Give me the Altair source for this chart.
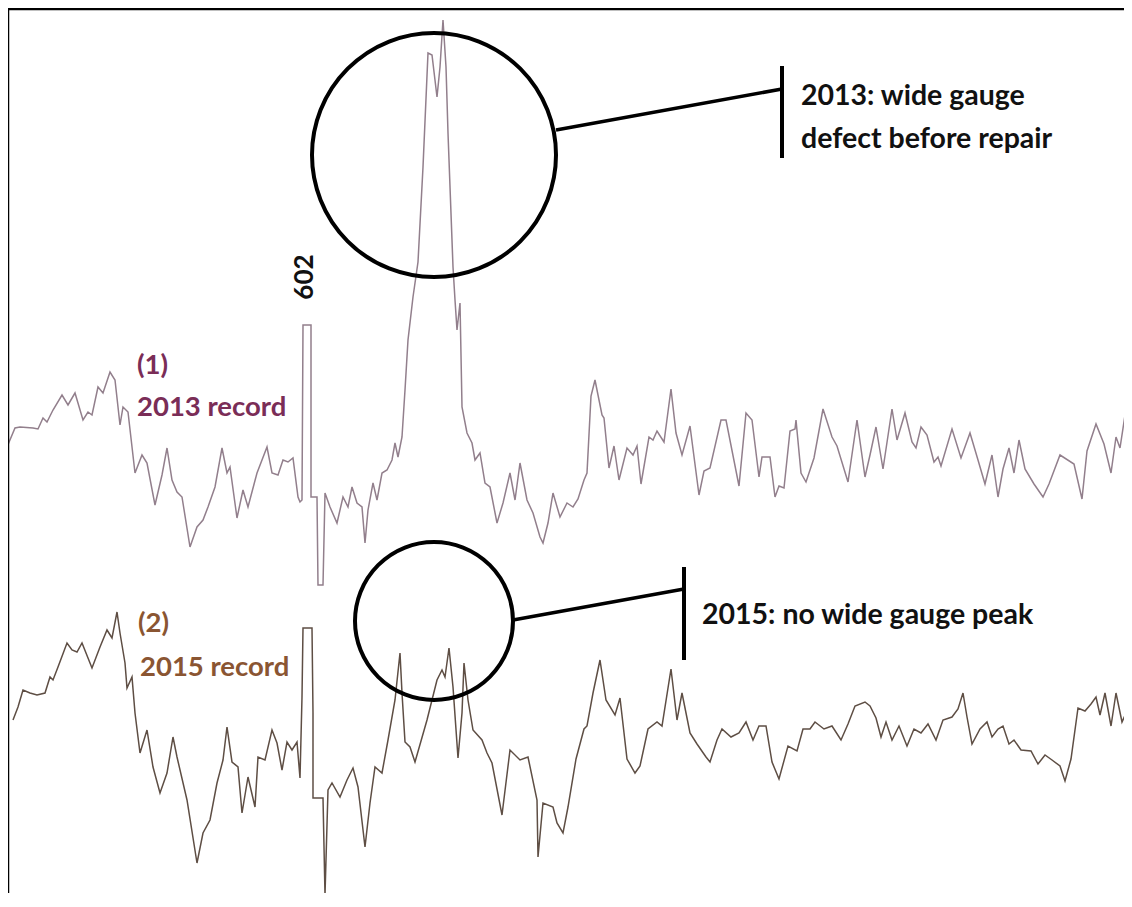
import altair as alt
import pandas as pd

t1_x = [7,15,20,33,38,43,47,53,62,68,75,83,88,92,98,103,110,115,120,123,128,135,142,147,155,162,167,172,177,182,190,197,203,208,215,222,227,230,237,243,248,257,267,272,278,283,288,293,298,300,302,303,311,311,317,318,323,325,330,337,343,348,352,357,362,365,368,373,377,382,387,392,395,398,402,405,408,413,418,423,428,432,437,440,443,446,448,453,455,457,460,462,467,472,475,480,485,490,497,503,510,515,520,527,533,540,543,548,553,560,567,573,578,584,587,591,595,598,602,604,609,614,619,627,633,637,641,649,653,657,664,671,676,682,690,699,704,710,721,726,739,746,752,759,762,770,775,779,784,790,795,796,801,806,814,823,832,837,848,857,865,870,876,883,892,897,905,912,916,921,927,934,938,941,952,961,970,978,985,992,998,1003,1009,1014,1019,1025,1034,1043,1049,1060,1074,1082,1087,1096,1104,1111,1116,1120,1127,1132]
t1_y = [447,428,427,428,429,418,422,410,395,405,393,420,412,415,387,393,372,380,425,407,412,473,455,463,505,475,448,480,492,497,547,527,520,507,487,448,473,467,518,490,507,473,447,473,475,460,462,458,497,502,500,325,325,497,497,585,585,493,507,523,497,507,487,503,507,543,510,483,500,473,470,460,443,457,437,390,340,297,262,167,53,55,97,67,20,67,133,267,300,330,303,407,433,443,460,453,483,487,523,503,473,500,463,500,513,537,543,523,493,517,503,507,499,480,473,396,380,395,415,418,468,446,480,448,455,446,484,437,440,431,442,389,433,455,426,495,471,468,420,420,486,413,420,477,457,457,497,486,488,431,429,420,473,482,458,409,437,446,482,420,477,455,427,469,409,440,413,442,448,427,435,462,457,466,429,458,433,460,484,455,497,469,448,473,440,469,484,497,484,455,464,499,451,424,444,473,437,448,402,415]

t2_x = [13,18,23,30,37,45,50,53,58,67,72,77,82,92,100,107,112,117,120,125,127,132,135,140,147,153,160,167,173,177,187,197,203,210,217,223,227,232,238,242,248,255,258,265,272,277,282,287,292,297,300,302,303,312,313,313,323,325,328,332,340,347,353,358,365,370,375,382,388,395,400,402,405,410,415,427,437,442,445,449,453,458,462,464,468,473,482,487,492,502,510,520,528,537,538,543,553,557,563,568,576,584,587,593,600,606,615,620,627,635,640,648,657,662,671,677,682,690,697,706,710,717,722,731,739,746,753,759,766,772,779,788,797,803,810,815,824,832,841,848,855,865,870,876,881,886,892,899,907,914,921,928,936,943,952,958,963,967,972,980,987,992,998,1003,1009,1014,1021,1031,1038,1045,1052,1060,1065,1071,1078,1085,1091,1096,1100,1105,1111,1116,1122,1127,1132]
t2_y = [720,707,690,693,695,693,677,680,667,643,650,652,643,668,647,630,638,612,633,663,688,677,713,753,730,767,793,773,737,757,800,863,833,820,783,760,727,762,767,813,777,807,757,760,730,743,770,742,750,742,778,697,628,628,713,798,798,895,790,783,797,780,768,787,847,803,767,773,740,700,653,693,742,747,762,720,680,670,677,648,687,758,713,663,700,730,740,753,763,815,750,760,757,800,857,803,807,823,833,807,759,729,726,693,660,700,715,698,759,773,766,729,722,726,669,720,693,733,744,757,762,740,729,737,733,722,740,726,726,762,779,746,751,729,729,722,729,726,740,724,706,702,706,718,737,722,740,726,746,729,733,724,740,720,717,709,693,717,744,729,722,737,729,726,744,740,750,751,764,755,760,766,781,759,708,711,704,697,715,693,726,693,722,711,708]

# ---- annotation content ----
circle_cx = [434, 434]
circle_cy = [155, 621]
circle_d = [244, 158]

conn_x = [556, 513]
conn_y = [130, 620]
conn_x2 = [782, 684]
conn_y2 = [89, 589]

bar_x = [782, 684]
bar_y = [66, 567]
bar_y2 = [158, 660]

note_text = ["2013: wide gauge", "defect before repair", "2015: no wide gauge peak"]
note_x = [801, 801, 702]
note_y = [96, 139, 615]

label_text = ["(1)", "2013 record", "(2)", "2015 record"]
label_x = [137, 137, 138, 140]
label_y = [366, 408, 624, 668]
label_col = ["#7a2d57", "#7a2d57", "#8a5532", "#8a5532"]

W, H = 1116, 885
XS = alt.Scale(domain=[8, 8 + W], nice=False, zero=False)
YS = alt.Scale(domain=[8, 8 + H], nice=False, zero=False, reverse=True)

rows = []
for i, (x, y) in enumerate(zip(t1_x, t1_y)):
    rows.append({"series": "2013", "i": i, "x": x, "y": y})
for i, (x, y) in enumerate(zip(t2_x, t2_y)):
    rows.append({"series": "2015", "i": i, "x": x, "y": y})
traces = pd.DataFrame(rows)

lines = alt.Chart(traces).mark_line(strokeWidth=1.5, clip=True).encode(
    x=alt.X("x:Q", scale=XS, axis=None),
    y=alt.Y("y:Q", scale=YS, axis=None),
    color=alt.Color("series:N", scale=alt.Scale(domain=["2013", "2015"], range=["#927f8c", "#5e4e44"]), legend=None),
    order=alt.Order("i:Q"),
)

circles_df = pd.DataFrame({"x": circle_cx, "y": circle_cy, "d": [v * v for v in circle_d]})
circles = alt.Chart(circles_df).mark_point(shape="circle", filled=False, color="black", strokeWidth=4, opacity=1).encode(
    x=alt.X("x:Q", scale=XS, axis=None),
    y=alt.Y("y:Q", scale=YS, axis=None),
    size=alt.Size("d:Q", scale=None, legend=None),
)

conn_df = pd.DataFrame({"x": conn_x, "y": conn_y, "x2": conn_x2, "y2": conn_y2})
conns = alt.Chart(conn_df).mark_rule(color="black", strokeWidth=3.5).encode(
    x=alt.X("x:Q", scale=XS, axis=None), y=alt.Y("y:Q", scale=YS, axis=None), x2="x2:Q", y2="y2:Q"
)

bar_df = pd.DataFrame({"x": bar_x, "y": bar_y, "y2": bar_y2})
bars = alt.Chart(bar_df).mark_rule(color="black", strokeWidth=4).encode(
    x=alt.X("x:Q", scale=XS, axis=None), y=alt.Y("y:Q", scale=YS, axis=None), y2="y2:Q"
)

notes_df = pd.DataFrame({"t": note_text, "x": note_x, "y": note_y})
notes = alt.Chart(notes_df).mark_text(align="left", baseline="middle", font="Lato", fontWeight="bold", fontSize=28.5, color="#111111").encode(
    x=alt.X("x:Q", scale=XS, axis=None), y=alt.Y("y:Q", scale=YS, axis=None), text="t:N"
)

labels_df = pd.DataFrame({"t": label_text, "x": label_x, "y": label_y, "c": label_col})
labels = alt.Chart(labels_df).mark_text(align="left", baseline="middle", font="Lato", fontWeight="bold", fontSize=27.5).encode(
    x=alt.X("x:Q", scale=XS, axis=None), y=alt.Y("y:Q", scale=YS, axis=None), text="t:N",
    color=alt.Color("c:N", scale=None),
)

km_df = pd.DataFrame({"t": ["602"], "x": [305], "y": [277]})
km = alt.Chart(km_df).mark_text(align="center", baseline="middle", angle=270, font="Lato", fontWeight="bold", fontSize=26, color="#111111").encode(
    x=alt.X("x:Q", scale=XS, axis=None), y=alt.Y("y:Q", scale=YS, axis=None), text="t:N"
)

frame_df = pd.DataFrame({"x": [8, 8], "y": [9, 8], "x2": [8 + W, 8], "y2": [9, 8 + H]})
frame = alt.Chart(frame_df).mark_rule(color="black", strokeWidth=2.5).encode(
    x=alt.X("x:Q", scale=XS, axis=None), y=alt.Y("y:Q", scale=YS, axis=None), x2="x2:Q", y2="y2:Q"
)

chart = alt.layer(lines, circles, conns, bars, notes, labels, km, frame).properties(
    width=W, height=H, padding=0, autosize=alt.AutoSizeParams(type="none"), background="white"
).configure_view(stroke=None)

chart.save("out.html", embed_options={"renderer": "svg", "actions": False})
